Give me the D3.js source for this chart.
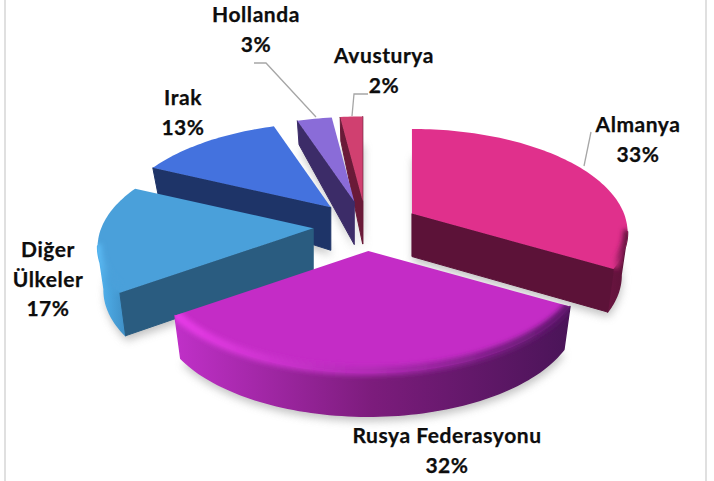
<!DOCTYPE html>
<html lang="tr">
<head>
  <meta charset="UTF-8">
  <title>Pasta grafik</title>
  <style>
    html, body { margin: 0; padding: 0; background: #fff; }
    svg { display: block; }
    text { font-family: Lato, 'Open Sans', sans-serif; font-weight: 700; font-size: 21px; letter-spacing: 0.55px; fill: #0d0d0d; stroke: #0d0d0d; stroke-width: 0.25px; text-anchor: middle; }
  </style>
</head>
<body>
  <svg width="714" height="481"></svg>

  <script src="https://d3js.org/d3.v7.min.js"></script>
  <script>
  // values in percent, clockwise from 12 o'clock
  const categories = ["Almanya", "Rusya Federasyonu", "Diğer Ülkeler", "Irak", "Hollanda", "Avusturya"];
  const shares = [33.4, 31.8, 16.8, 12.9, 3.1, 2.0];

  const faceColors = ["#e0308c", "#c42cc6", "#4aa0da", "#4472de", "#8a6cd8", "#d04070"];
  const radialColors = ["#5c1238", "#4a1458", "#2a5c80", "#1e3468", "#3c2c68", "#6a1a38"];
  const outerColors = [
    ["#6a1440", "#5c1238"],
    ["#c030c8", "#7c1c7c", "#4a1458"],
    ["#52b4f0", "#3f8fc6"],
    ["#1e3468", "#1e3468"],
    ["#3c2c68", "#3c2c68"],
    ["#6a1a38", "#6a1a38"]
  ];
  const rimColors = [
    ["#e0308c", "#8a1c58", "#5c1238"],
    ["#e83ce8", "#b02ab4", "#5a1668"],
    ["#5cbcf6", "#4aa0da", "#4aa0da"],
    ["#4472de", "#4472de", "#4472de"],
    ["#8a6cd8", "#8a6cd8", "#8a6cd8"],
    ["#d04070", "#d04070", "#d04070"]
  ];

  // label lines and where they sit (separate from the values)
  const labelLines = [["Almanya"], ["Rusya Federasyonu"], ["Diğer", "Ülkeler"], ["Irak"], ["Hollanda"], ["Avusturya"]];
  const labelAnchors = [[638, 132], [447, 443], [48, 257], [183, 105], [256, 22], [384, 63]];
  const leaders = [
    [[591, 132], [584, 166]],
    null,
    null,
    null,
    [[254, 63], [266, 63], [316, 117]],
    [[368, 94], [354, 94], [352, 116]]
  ];

  const width = 714, height = 481;
  const cx = 366, cy = 226;       // pie centre before exploding
  const radiusX = 212, radiusY = 100;
  const explode = 0.25;
  const persp = 5.5;              // perspective strength, front looks bigger than back
  const wallInset = 0.97;         // bottom of the wall pulls in a little

  const svg = d3.select("svg");
  const defs = svg.append("defs");

  defs.append("filter").attr("id", "shadow")
    .attr("x", "-20%").attr("y", "-20%").attr("width", "140%").attr("height", "140%")
    .append("feGaussianBlur").attr("stdDeviation", 4);
  defs.append("filter").attr("id", "soft")
    .attr("x", "-20%").attr("y", "-20%").attr("width", "140%").attr("height", "140%")
    .append("feGaussianBlur").attr("stdDeviation", 2.6);

  // frame of the chart area
  svg.append("rect").attr("width", width).attr("height", height).attr("fill", "#fff");
  svg.append("rect").attr("x", 5).attr("y", -3).attr("width", 701).attr("height", height + 6)
    .attr("fill", "none").attr("stroke", "#d9d9d9").attr("stroke-width", 1.6);

  const arcs = d3.pie().sort(null).value(d => d)(shares);
  const line = d3.line();
  const closed = d3.line().curve(d3.curveLinearClosed);

  // wall height shrinks towards the back of the pie
  const wallHeight = d3.scaleLinear().domain([-0.5, -0.05]).range([24, 43]).clamp(true);

  function sliceGeometry(a) {
    const mid = (a.startAngle + a.endAngle) / 2;
    const apex = [cx + radiusX * explode * Math.sin(mid), cy - radiusY * explode * Math.cos(mid)];
    const steps = Math.max(4, Math.ceil((a.endAngle - a.startAngle) * 40));
    const rim = d3.range(steps + 1).map(i => {
      const t = a.startAngle + (a.endAngle - a.startAngle) * i / steps;
      const u = Math.sin(t), v = -Math.cos(t);
      const s = persp / (persp - v);
      const p = [apex[0] + radiusX * u * s, apex[1] + radiusY * v * s];
      p.wall = wallHeight(v);
      p.dropX = apex[0] + (p[0] - apex[0]) * wallInset;
      return p;
    });
    apex.wall = wallHeight(0);
    apex.dropX = apex[0];
    return { apex, rim };
  }

  function wallPoly(run) {
    const down = run.map(p => [p.dropX, p[1] + p.wall]).reverse();
    return run.concat(down);
  }

  const slices = arcs.map((a, i) => {
    const g = sliceGeometry(a);
    // front facing edges run leftward on screen when going clockwise
    const outerRun = g.rim.filter((p, j) => {
      const next = g.rim[j + 1], prev = g.rim[j - 1];
      return (next && next[0] < p[0]) || (prev && p[0] < prev[0]);
    });
    const radial = [];
    if (g.rim[0][0] < g.apex[0]) radial.push([g.apex, g.rim[0]]);
    const last = g.rim[g.rim.length - 1];
    if (g.apex[0] < last[0]) radial.push([last, g.apex]);
    return { i, a, g, outerRun, radial };
  });

  function makeGradient(id, colors) {
    const grad = defs.append("linearGradient").attr("id", id);
    colors.forEach((c, k) => grad.append("stop")
      .attr("offset", k / (colors.length - 1)).attr("stop-color", c));
  }

  // soft shadow below everything
  const shadowLayer = svg.append("g").attr("filter", "url(#shadow)").attr("opacity", 0.7);
  slices.forEach(s => {
    const low = [s.g.apex, ...s.g.rim].map(p => [p.dropX + 1, p[1] + p.wall + 5]);
    shadowLayer.append("path").attr("d", closed(low)).attr("fill", "#a8a8a8");
  });

  // back slices first, Rusya last
  const drawOrder = [0, 5, 4, 3, 2, 1];
  drawOrder.forEach(idx => {
    const s = slices[idx];
    const g = svg.append("g");
    const face = [s.g.apex, ...s.g.rim];

    makeGradient("outer" + idx, outerColors[idx]);
    makeGradient("rim" + idx, rimColors[idx]);

    if (s.outerRun.length > 1) {
      g.append("path").attr("d", closed(wallPoly(s.outerRun)))
        .attr("fill", `url(#outer${idx})`)
        .attr("stroke", `url(#outer${idx})`).attr("stroke-width", 1.5).attr("stroke-linejoin", "round");
    }
    s.radial.forEach(edge => {
      g.append("path").attr("d", closed(wallPoly(edge)))
        .attr("fill", radialColors[idx]).attr("stroke", radialColors[idx])
        .attr("stroke-width", 1).attr("stroke-linejoin", "round");
    });

    g.append("path").attr("d", closed(face)).attr("fill", faceColors[idx]);

    // rounded edge between the face and the outer wall
    if (s.outerRun.length > 1) {
      const clip = defs.append("clipPath").attr("id", "clip" + idx);
      clip.append("path").attr("d", closed(face));
      clip.append("path").attr("d", closed(wallPoly(s.outerRun)));
      g.append("g").attr("clip-path", `url(#clip${idx})`)
        .append("path").attr("d", line(s.outerRun.map(p => [p[0], p[1] - 2])))
        .attr("fill", "none").attr("stroke", `url(#rim${idx})`)
        .attr("stroke-width", 9).attr("filter", "url(#soft)");
    }
  });

  // leader lines
  svg.append("g").selectAll("path")
    .data(leaders.filter(d => d))
    .enter().append("path")
    .attr("d", d => line(d))
    .attr("fill", "none").attr("stroke", "#a6a6a6").attr("stroke-width", 1.3);

  // labels, name lines then the rounded percent
  const lineGap = 29.5;
  const label = svg.append("g").selectAll("text")
    .data(shares)
    .enter().append("text")
    .attr("transform", (d, i) => `translate(${labelAnchors[i][0]},${labelAnchors[i][1]})`);
  label.each(function (d, i) {
    const rows = labelLines[i].concat(Math.round(d) + "%");
    d3.select(this).selectAll("tspan").data(rows).enter().append("tspan")
      .attr("x", 0).attr("y", (r, k) => k * lineGap).text(r => r);
  });
  </script>
</body>
</html>
